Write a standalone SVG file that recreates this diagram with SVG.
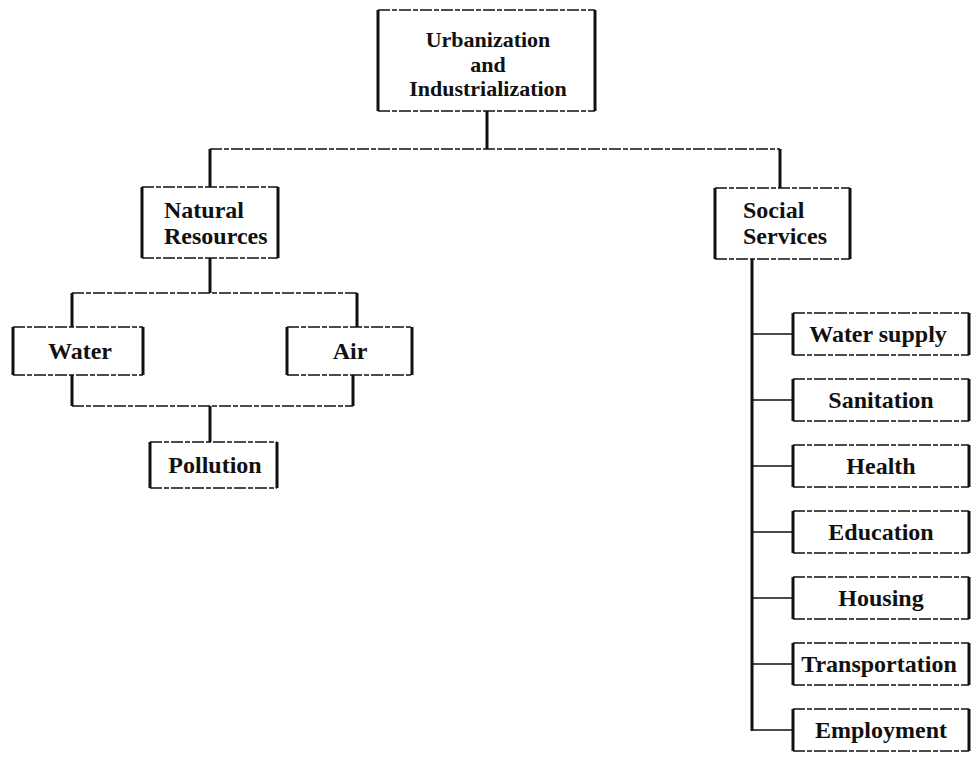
<svg xmlns="http://www.w3.org/2000/svg" width="975" height="762" viewBox="0 0 975 762">
  <style>
    .edge-h { stroke: #111; stroke-width: 1.6; stroke-dasharray: 12 2 5 2; fill: none; }
    .edge-v { stroke: #111; stroke-width: 3; fill: none; }
    .lbl { font-family: "Liberation Serif", "Times New Roman", serif; font-weight: bold; font-size: 24px; fill: #111; }
    .root { font-size: 22px; }
    .mid { text-anchor: middle; }
  </style>
  <rect width="975" height="762" fill="#fff"/>

  <!-- connectors -->
  <g id="connectors">
    <!-- root to the two branches -->
    <path class="edge-v" d="M487 111 V149"/>
    <path class="edge-h" d="M210 149 H780"/>
    <path class="edge-v" d="M210 149 V187 M780 149 V188"/>
    <!-- natural resources split -->
    <path class="edge-v" d="M210 258 V293"/>
    <path class="edge-h" d="M72 293 H357"/>
    <path class="edge-v" d="M72 293 V327 M357 293 V327"/>
    <!-- water + air merge into pollution -->
    <path class="edge-v" d="M72 375 V406 M353 375 V406"/>
    <path class="edge-h" d="M72 406 H353"/>
    <path class="edge-v" d="M210 406 V442"/>
    <!-- social services trunk and branches -->
    <path class="edge-v" d="M752 259 V731"/>
    <path stroke="#111" stroke-width="1.4" fill="none" d="M752 334 H793 M752 400 H793 M752 466 H793 M752 532 H793 M752 598 H793 M752 664 H793 M752 730 H793"/>
  </g>

  <g id="urbanization">
    <path class="edge-h" d="M378 10 H595 M378 111 H595"/>
    <path class="edge-v" d="M378 10 V111 M595 10 V111"/>
    <text class="lbl root mid" x="488" y="47">Urbanization</text>
    <text class="lbl root mid" x="488" y="71.5">and</text>
    <text class="lbl root mid" x="488" y="96">Industrialization</text>
  </g>

  <g id="natural-resources">
    <path class="edge-h" d="M142 187 H278 M142 258 H278"/>
    <path class="edge-v" d="M142 187 V258 M278 187 V258"/>
    <text class="lbl" x="164" y="218">Natural</text>
    <text class="lbl" x="164" y="244">Resources</text>
  </g>

  <g id="social-services">
    <path class="edge-h" d="M715 188 H850 M715 259 H850"/>
    <path class="edge-v" d="M715 188 V259 M850 188 V259"/>
    <text class="lbl" x="743" y="218">Social</text>
    <text class="lbl" x="743" y="244">Services</text>
  </g>

  <g id="water">
    <path class="edge-h" d="M13 327 H143 M13 375 H143"/>
    <path class="edge-v" d="M13 327 V375 M143 327 V375"/>
    <text class="lbl mid" x="80" y="359">Water</text>
  </g>

  <g id="air">
    <path class="edge-h" d="M287 327 H412 M287 375 H412"/>
    <path class="edge-v" d="M287 327 V375 M412 327 V375"/>
    <text class="lbl mid" x="350" y="359">Air</text>
  </g>

  <g id="pollution">
    <path class="edge-h" d="M150 442 H277 M150 488 H277"/>
    <path class="edge-v" d="M150 442 V488 M277 442 V488"/>
    <text class="lbl mid" x="215" y="473">Pollution</text>
  </g>

  <g id="water-supply">
    <path class="edge-h" d="M793 313 H969 M793 355 H969"/>
    <path class="edge-v" d="M793 313 V355 M969 313 V355"/>
    <text class="lbl mid" x="878" y="342">Water supply</text>
  </g>

  <g id="sanitation">
    <path class="edge-h" d="M793 379 H969 M793 421 H969"/>
    <path class="edge-v" d="M793 379 V421 M969 379 V421"/>
    <text class="lbl mid" x="881" y="408">Sanitation</text>
  </g>

  <g id="health">
    <path class="edge-h" d="M793 445 H969 M793 487 H969"/>
    <path class="edge-v" d="M793 445 V487 M969 445 V487"/>
    <text class="lbl mid" x="881" y="474">Health</text>
  </g>

  <g id="education">
    <path class="edge-h" d="M793 511 H969 M793 553 H969"/>
    <path class="edge-v" d="M793 511 V553 M969 511 V553"/>
    <text class="lbl mid" x="881" y="540">Education</text>
  </g>

  <g id="housing">
    <path class="edge-h" d="M793 577 H969 M793 619 H969"/>
    <path class="edge-v" d="M793 577 V619 M969 577 V619"/>
    <text class="lbl mid" x="881" y="606">Housing</text>
  </g>

  <g id="transportation">
    <path class="edge-h" d="M793 643 H969 M793 685 H969"/>
    <path class="edge-v" d="M793 643 V685 M969 643 V685"/>
    <text class="lbl mid" x="879" y="672">Transportation</text>
  </g>

  <g id="employment">
    <path class="edge-h" d="M793 709 H969 M793 751 H969"/>
    <path class="edge-v" d="M793 709 V751 M969 709 V751"/>
    <text class="lbl mid" x="881" y="738">Employment</text>
  </g>
</svg>
